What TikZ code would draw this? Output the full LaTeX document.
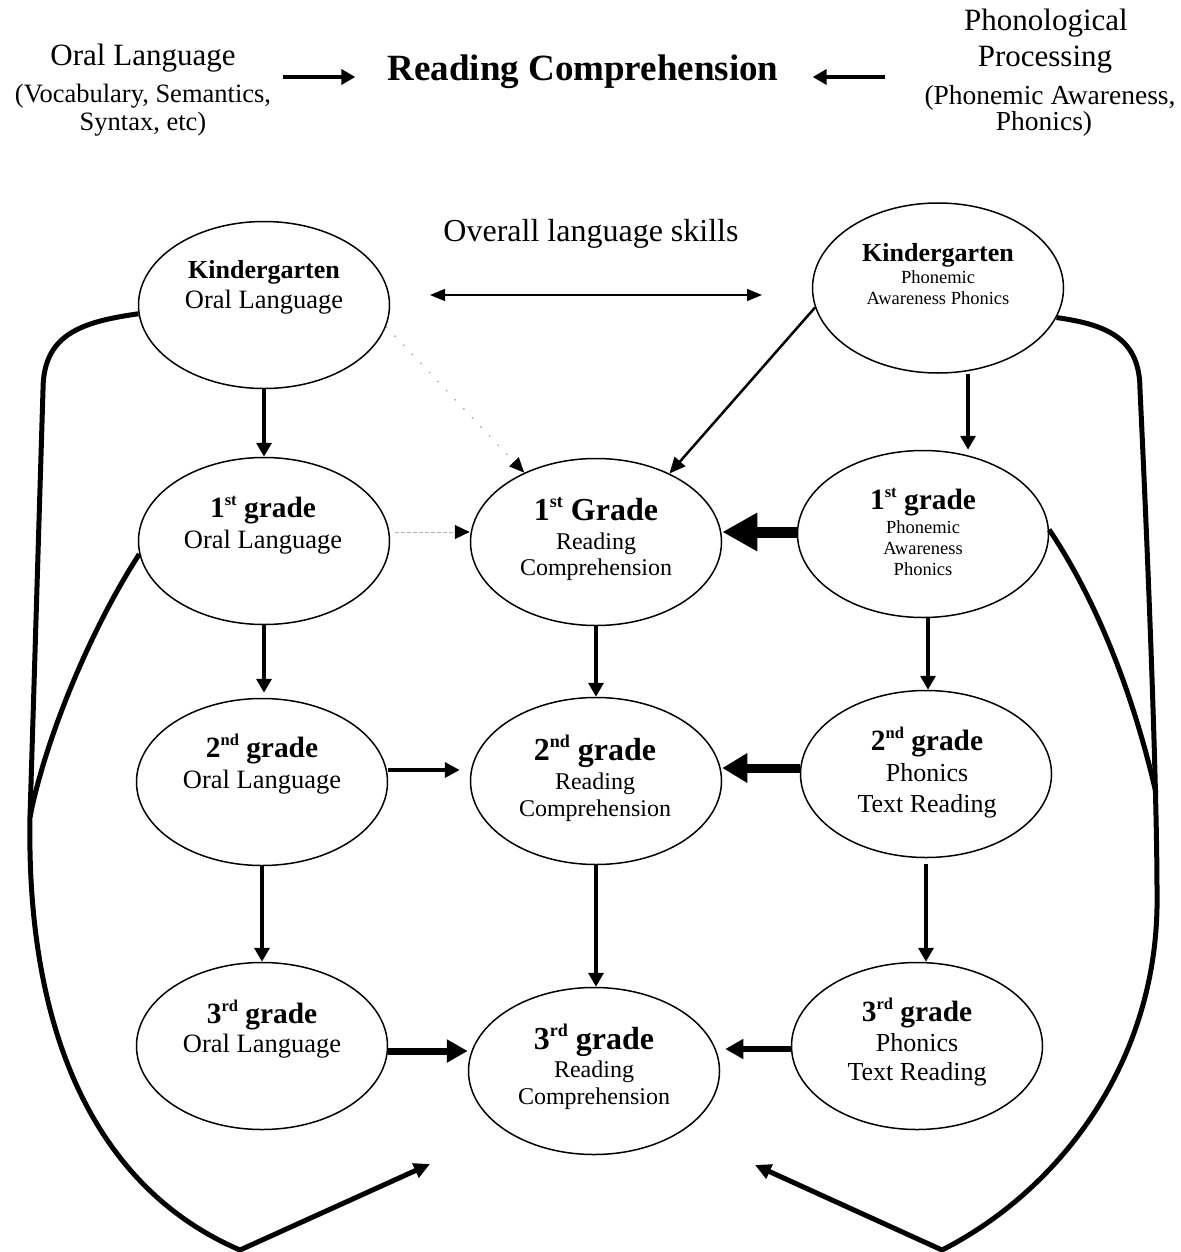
\documentclass[tikz,border=0pt]{standalone}
\usepackage{fontspec}
\setmainfont{Liberation Serif}
\usetikzlibrary{shapes.geometric,arrows.meta}
\newcommand\myfs[1]{\fontsize{#1}{#1}\selectfont}
\newcommand\supA[1]{\raisebox{12pt}{\fontsize{16.5}{16.5}\selectfont\bfseries #1}}
\newcommand\supB[1]{\raisebox{13pt}{\fontsize{18}{18}\selectfont\bfseries #1}}
\tikzset{
  ell/.style={draw, ellipse, line width=1.5pt, minimum width=251pt, minimum height=167pt, inner sep=0pt},
  lbl/.style={inner sep=0pt, anchor=base},
  hd/.style={lbl, font=\myfs{29.4}\bfseries},
  hdr/.style={lbl, font=\myfs{32}\bfseries},
  body/.style={lbl, font=\myfs{26.5}},
  bodyr/.style={lbl, font=\myfs{24}},
  small/.style={lbl, font=\myfs{18.5}},
  varr/.style={line width=4pt, -{Triangle[length=14pt,width=15pt]}},
  curve/.style={line width=5pt, line join=round},
}
\begin{document}
\begin{tikzpicture}[x=1pt,y=-1pt]
\useasboundingbox (0,0) rectangle (1180,1252);

% ---- top line ----
\node[lbl, font=\myfs{31}] (ol1) at (143,66) {Oral Language};
\node[lbl, font=\myfs{26.5}] (ol2) at (143,103) {(Vocabulary, Semantics,};
\node[lbl, font=\myfs{26.5}] (ol3) at (143,131) {Syntax, etc)};
\node[lbl, font=\myfs{37}\bfseries] (title) at (583,81) {Reading Comprehension};
\node[lbl, font=\myfs{31}] (pp1) at (1046,31) {Phonological};
\node[lbl, font=\myfs{31}] (pp2) at (1045,67) {Processing};
\node[lbl, font=\myfs{27.5}] (pp3) at (1050,105) {(Phonemic Awareness,};
\node[lbl, font=\myfs{27.5}] (pp4) at (1044,131) {Phonics)};
\coordinate (tla) at (283,77);
\coordinate (tra) at (885,77);
\draw[line width=3.5pt, -{Triangle[length=14pt,width=15pt]}, shorten >=32pt] (tla) -- (tla -| title.west);
\draw[line width=3.5pt, -{Triangle[length=14pt,width=15pt]}, shorten >=34pt] (tra) -- (tra -| title.east);

% ---- overall language skills ----
\node[lbl, font=\myfs{32}] (ols) at (591,241) {Overall language skills};
\coordinate (olsl) at (430,295);
\coordinate (olsr) at (762,295);
\draw[line width=1.6pt, {Triangle[length=15pt,width=12pt]}-{Triangle[length=15pt,width=12pt]}] (olsl) -- (olsr);

% ---- ellipses ----
\node[ell] (ko) at (264,305) {};
\node[ell, minimum height=170pt] (kp) at (938,288) {};
\node[ell] (o1) at (264,541) {};
\node[ell] (r1) at (596,542) {};
\node[ell] (p1) at (923,534) {};
\node[ell] (o2) at (262,782) {};
\node[ell] (r2) at (596,781) {};
\node[ell] (p2) at (926,774) {};
\node[ell] (o3) at (262,1046) {};
\node[ell] (r3) at (594,1071) {};
\node[ell] (p3) at (917,1046) {};

% ---- ellipse texts ----
\node[lbl, font=\myfs{26}\bfseries] (ko-a) at (264,278) {Kindergarten};
\node[body] (ko-b) at (264,308) {Oral Language};

\node[lbl, font=\myfs{26}\bfseries] (kp-a) at (938,261) {Kindergarten};
\node[small] (kp-b) at (938,283.5) {Phonemic};
\node[small] (kp-c) at (938,304.5) {Awareness Phonics};

\node[hd] (o1-a) at (263,517) {1\supA{st} grade};
\node[body] (o1-b) at (263,548) {Oral Language};

\node[hdr] (r1-a) at (596,520) {1\supB{st} Grade};
\node[bodyr] (r1-b) at (596,549) {Reading};
\node[bodyr] (r1-c) at (596,575) {Comprehension};

\node[hd] (p1-a) at (923,509) {1\supA{st} grade};
\node[small] (p1-b) at (923,533.5) {Phonemic};
\node[small] (p1-c) at (923,554.5) {Awareness};
\node[small] (p1-d) at (923,575.5) {Phonics};

\node[hd] (o2-a) at (262,757) {2\supA{nd} grade};
\node[body] (o2-b) at (262,788) {Oral Language};

\node[hdr] (r2-a) at (595,760) {2\supB{nd} grade};
\node[bodyr] (r2-b) at (595,789) {Reading};
\node[bodyr] (r2-c) at (595,816) {Comprehension};

\node[hd] (p2-a) at (927,750) {2\supA{nd} grade};
\node[lbl, font=\myfs{26}] (p2-b) at (927,781) {Phonics};
\node[lbl, font=\myfs{26}] (p2-c) at (927,812) {Text Reading};

\node[hd] (o3-a) at (262,1023) {3\supA{rd} grade};
\node[body] (o3-b) at (262,1052) {Oral Language};

\node[hdr] (r3-a) at (594,1049) {3\supB{rd} grade};
\node[bodyr] (r3-b) at (594,1077) {Reading};
\node[bodyr] (r3-c) at (594,1104) {Comprehension};

\node[hd] (p3-a) at (917,1021) {3\supA{rd} grade};
\node[lbl, font=\myfs{26}] (p3-b) at (917,1051) {Phonics};
\node[lbl, font=\myfs{26}] (p3-c) at (917,1080) {Text Reading};

% ---- vertical arrows ----
\draw[varr] (ko.south) -- (ko.south |- o1.north);
\draw[varr, shorten >=5pt] (o1.south) -- (o1.south |- o2.north);
\draw[varr] (o2.south) -- (o2.south |- o3.north);
\draw[varr, line width=4.5pt] (r1.south) -- (r1.south |- r2.north);
\draw[varr, line width=4.5pt] (r2.south) -- (r2.south |- r3.north);
\draw[varr] ([xshift=30pt]kp.south) -- ([xshift=30pt]kp.south |- p1.north);
\draw[varr] ([xshift=5pt]p1.south) -- ([xshift=5pt]p1.south |- p2.north);
\draw[varr, shorten <=6pt] (p2.south) -- (p2.south |- p3.north);

% ---- horizontal arrows ----
\draw[line width=3.5pt, -{Triangle[length=15pt,width=15pt]}, shorten >=10pt]
  ([yshift=12pt]o2.east) -- ([yshift=11pt]r2.west);
\draw[line width=7pt, -{Triangle[length=21pt,width=22pt]}]
  ([yshift=-5pt]o3.east) -- ([yshift=20pt]r3.west);
\draw[line width=9pt, -{Triangle[length=25pt,width=28pt]}]
  ([yshift=6pt]p2.west) -- ([yshift=13pt]r2.east);
\draw[line width=11pt, -{Triangle[length=35pt,width=36pt]}]
  ([yshift=2pt]p1.west) -- ([yshift=10pt]r1.east);
\draw[line width=5.5pt, -{Triangle[length=18pt,width=19pt]}, shorten >=5pt]
  ([yshift=-3pt]p3.west) -- ([yshift=22pt]r3.east);

% ---- diagonal arrows ----
\draw[line width=2.5pt, -{Triangle[length=16pt,width=14pt]}] (kp.189) -- (r1.43);
\draw[gray!70, line width=1.2pt, dash pattern=on 1.5pt off 11pt,
  -{Triangle[length=15pt,width=13pt,color=black]}] (ko.-10) -- (r1.136.6);
\draw[gray!60, line width=1pt, dash pattern=on 4pt off 2pt,
  -{Triangle[length=15pt,width=14pt,color=black]}, shorten <=5pt]
  ([yshift=9pt]o1.east) -- ([yshift=10pt]r1.west);

% ---- big feedback curves ----
\coordinate (lt) at (430,1164);
\coordinate (rt) at (755,1165);
\draw[curve, -{Triangle[length=16pt,width=15pt]}]
  (ko.184) .. controls (80,322) and (43,335) .. (43,390)
  -- (30,817) .. controls (26,1040) and (100,1190) .. (240,1250) -- (lt);
\draw[curve] (o1.186) .. controls (90,630) and (45,740) .. (30,817);
\draw[curve, -{Triangle[length=16pt,width=15pt]}]
  (kp.-14) .. controls (1110,325) and (1140,340) .. (1140,390)
  .. controls (1150,600) and (1157,800) .. (1157,893)
  .. controls (1160,1060) and (1060,1190) .. (942,1250) -- (rt);
\draw[curve] (p1.2) .. controls (1090,590) and (1130,680) .. (1156,793);
\end{tikzpicture}
\end{document}
